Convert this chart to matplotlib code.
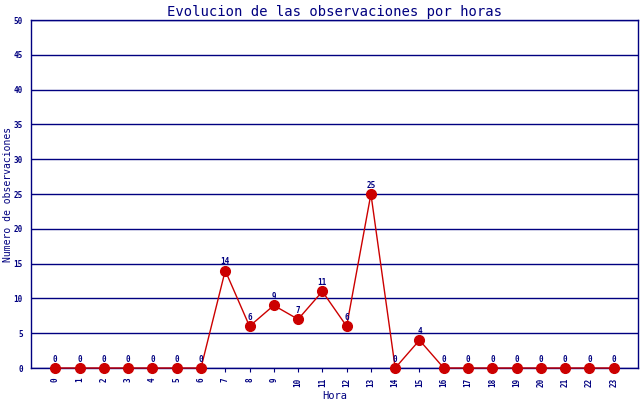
import numpy as np
import matplotlib.pyplot as plt

horas = list(range(24))
observaciones = [0, 0, 0, 0, 0, 0, 0, 14, 6, 9, 7, 11, 6, 25, 0, 4, 0, 0, 0, 0, 0, 0, 0, 0]
yticks = list(range(0, 51, 5))

navy = '#000080'
rojo = '#cc0000'

plt.rcParams['font.family'] = 'DejaVu Sans Mono'

fig = plt.figure(figsize=(6.4, 4.0), dpi=100)
ax = fig.add_axes([31/640, 32/400, 607/640, 348/400])

ax.plot(horas, observaciones, color=rojo, lw=1, marker='o', ms=7,
        mfc=rojo, mec=rojo, zorder=3, clip_on=False)
for h, v in zip(horas, observaciones):
    ax.text(h, v + 0.6, str(v), color=navy, fontsize=5.5, ha='center',
            va='bottom', fontweight='bold')

ax.set_xlim(-1, 24)
ax.set_ylim(0, 50)
ax.set_yticks(yticks)
ax.set_xticks(horas)
ax.set_xticklabels([str(h) for h in horas], rotation=90, fontsize=5.5,
                   color=navy, fontweight='bold')
ax.tick_params(axis='y', length=0, labelsize=5.5, labelcolor=navy, pad=6)
for lab in ax.get_yticklabels():
    lab.set_fontweight('bold')
ax.tick_params(axis='x', length=3, color=navy, pad=4)
ax.yaxis.grid(True, color=navy, lw=1)
ax.set_axisbelow(True)
for s in ax.spines.values():
    s.set_color(navy)
    s.set_linewidth(1)

ax.set_title('Evolucion de las observaciones por horas', color=navy,
             fontsize=10, pad=3)
ax.set_xlabel('Hora', color=navy, fontsize=7.5, labelpad=3)
ax.set_ylabel('Numero de observaciones', color=navy, fontsize=7, va='center')
ax.yaxis.set_label_coords(-23/607, 0.5)

fig.savefig('out.png', dpi=100)
